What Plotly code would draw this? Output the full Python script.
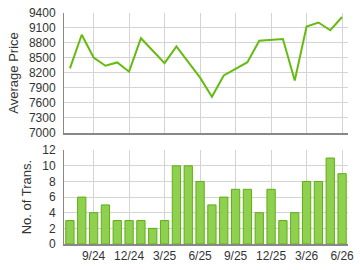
import plotly.graph_objects as go
from plotly.subplots import make_subplots

months = ["7/24","8/24","9/24","10/24","11/24","12/24","1/25","2/25","3/25","4/25","5/25","6/25",
          "7/25","8/25","9/25","10/25","11/25","12/25","1/26","2/26","3/26","4/26","5/26","6/26"]
avg_price = [8290, 8965, 8510, 8345, 8410, 8225, 8895, 8635, 8395, 8730, 8420, 8105,
             7725, 8150, 8280, 8415, 8845, 8860, 8880, 8050, 9130, 9210, 9055, 9320]
transactions = [3, 6, 4, 5, 3, 3, 3, 2, 3, 10, 10, 8, 5, 6, 7, 7, 4, 7, 3, 4, 8, 8, 11, 9]
tick_idx = [2, 5, 8, 11, 14, 17, 20, 23]
tick_text = [months[i] for i in tick_idx]

x = list(range(len(months)))

fig = make_subplots(rows=2, cols=1, shared_xaxes=False, vertical_spacing=0.0)
fig.add_trace(go.Scatter(x=x, y=avg_price, mode="lines",
                         line=dict(color="#66bb11", width=2)), row=1, col=1)
fig.add_trace(go.Bar(x=x, y=transactions, width=0.7,
                     marker=dict(color="#8fd14f", line=dict(color="#5fae16", width=1))),
              row=2, col=1)

font = dict(family="Liberation Sans, Arial, sans-serif", size=12, color="#333333")
fig.update_layout(
    width=360, height=270, margin=dict(l=64, r=6, t=7, b=26),
    paper_bgcolor="white", plot_bgcolor="white", showlegend=False, font=font,
)
grid = "#d4d4d4"
for r in (1, 2):
    fig.update_xaxes(row=r, col=1, range=[-0.5, 23.5], tickmode="array", tickvals=tick_idx,
                     ticktext=tick_text if r == 2 else [""] * len(tick_idx),
                     showgrid=True, gridcolor=grid, gridwidth=1,
                     showline=True, linecolor="#888888", linewidth=1.5,
                     ticks="", zeroline=False, tickfont=dict(size=12, color="#333333"))
fig.update_layout(
    yaxis=dict(domain=[0.481, 1.0], range=[7000, 9400], dtick=300, tick0=7000,
               showgrid=True, gridcolor=grid, showline=True, linecolor="#888888",
               linewidth=1, zeroline=False, ticks="", ticklabelstandoff=5,
               tickfont=dict(size=12, color="#333333"),
               title=dict(text="Average Price", font=dict(size=13, color="#333333"), standoff=7)),
    yaxis2=dict(domain=[0.0, 0.406], range=[0, 12], dtick=2,
                showgrid=True, gridcolor=grid, showline=True, linecolor="#888888",
                linewidth=1, zeroline=False, ticks="", ticklabelstandoff=5,
                tickfont=dict(size=12, color="#333333"),
                title=dict(text="No. of Trans.", font=dict(size=13, color="#333333"), standoff=7)),
)
fig.write_html("out.html")
